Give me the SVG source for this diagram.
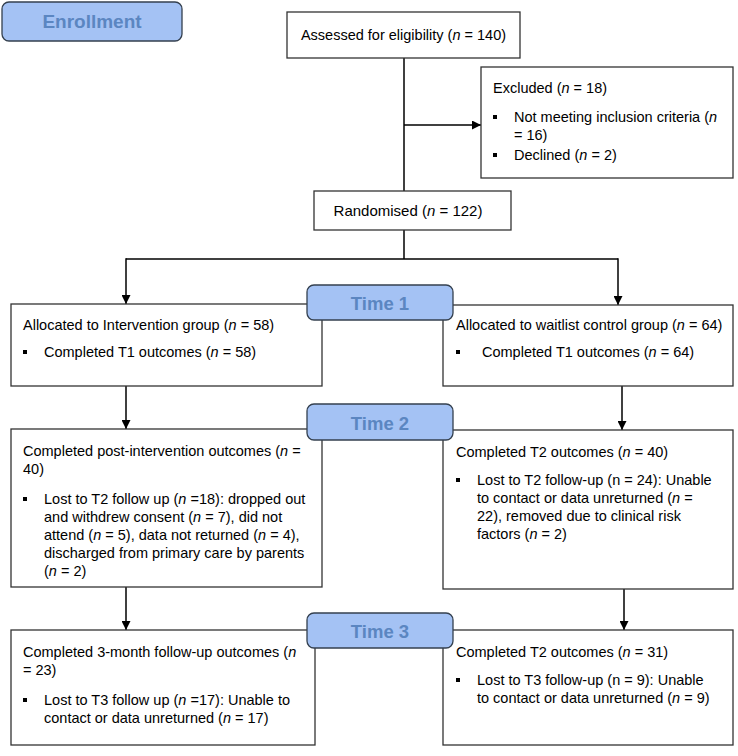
<svg xmlns="http://www.w3.org/2000/svg" width="738" height="756" viewBox="0 0 738 756">
<defs>
<marker id="ah" viewBox="0 0 10 10" refX="10" refY="5" markerUnits="userSpaceOnUse" markerWidth="9" markerHeight="9" orient="auto">
<path d="M0,0 L10,5 L0,10 z" fill="#000"/>
</marker>
<style>
.box{fill:#fff;stroke:#333;stroke-width:1.3}
.lbl{fill:#a4c2f4;stroke:#34404f;stroke-width:1.3}
.lt{font-family:"Liberation Sans",Arial,sans-serif;font-weight:bold;fill:#5b86c1;text-anchor:middle}
.t{font-family:"Liberation Sans",Arial,sans-serif;font-size:14.5px;fill:#000}
.c{text-anchor:middle}
.b{fill:#000}
.conn{stroke:#000;stroke-width:1.5;fill:none}
</style>
</defs>
<g id="connectors">
<line class="conn" x1="404" y1="58" x2="404" y2="191"/>
<line class="conn" x1="404" y1="125" x2="481" y2="125" marker-end="url(#ah)"/>
<polyline class="conn" points="404,230 404,259"/>
<polyline class="conn" points="126,259 618,259"/>
<line class="conn" x1="126" y1="258.25" x2="126" y2="304" marker-end="url(#ah)"/>
<line class="conn" x1="618" y1="258.25" x2="618" y2="305" marker-end="url(#ah)"/>
<line class="conn" x1="126" y1="386" x2="126" y2="429" marker-end="url(#ah)"/>
<line class="conn" x1="622" y1="386" x2="622" y2="430" marker-end="url(#ah)"/>
<line class="conn" x1="126" y1="587" x2="126" y2="630" marker-end="url(#ah)"/>
<line class="conn" x1="624" y1="589" x2="624" y2="630" marker-end="url(#ah)"/>
</g>
<g id="assessed">
<rect class="box" x="287" y="12" width="233" height="46"/>
<text class="t c" x="403.5" y="40">Assessed for eligibility (<tspan font-style="italic">n</tspan> = 140)</text>
</g>
<g id="excluded">
<rect class="box" x="481" y="67" width="252" height="111"/>
<text class="t" x="493" y="93">Excluded (<tspan font-style="italic">n</tspan> = 18)</text>
<rect class="b" x="493" y="115" width="4" height="4"/>
<text class="t" x="514" y="122">Not meeting inclusion criteria (<tspan font-style="italic">n</tspan></text>
<text class="t" x="514" y="140">= 16)</text>
<rect class="b" x="493" y="153" width="4" height="4"/>
<text class="t" x="514" y="160">Declined (<tspan font-style="italic">n</tspan> = 2)</text>
</g>
<g id="randomised">
<rect class="box" x="314" y="191" width="197" height="39"/>
<text class="t c" x="408" y="216" style="font-size:15px">Randomised (<tspan font-style="italic">n</tspan> = 122)</text>
</g>
<g id="int-t1">
<rect class="box" x="11" y="304" width="311" height="82"/>
<text class="t" x="23" y="330">Allocated to Intervention group (<tspan font-style="italic">n</tspan> = 58)</text>
<rect class="b" x="23" y="350" width="4" height="4"/>
<text class="t" x="44" y="357">Completed T1 outcomes (<tspan font-style="italic">n</tspan> = 58)</text>
</g>
<g id="wl-t1">
<rect class="box" x="443" y="305" width="290" height="81"/>
<text class="t" x="456" y="330">Allocated to waitlist control group (<tspan font-style="italic">n</tspan> = 64)</text>
<rect class="b" x="456" y="350" width="4" height="4"/>
<text class="t" x="482" y="357">Completed T1 outcomes (<tspan font-style="italic">n</tspan> = 64)</text>
</g>
<g id="int-t2">
<rect class="box" x="11" y="429" width="311" height="158"/>
<text class="t" x="23" y="456">Completed post-intervention outcomes (<tspan font-style="italic">n</tspan> =</text>
<text class="t" x="23" y="474">40)</text>
<rect class="b" x="23" y="497" width="4" height="4"/>
<text class="t" x="44" y="504">Lost to T2 follow up (<tspan font-style="italic">n</tspan> =18): dropped out</text>
<text class="t" x="44" y="522">and withdrew consent (<tspan font-style="italic">n</tspan> = 7), did not</text>
<text class="t" x="44" y="540">attend (<tspan font-style="italic">n</tspan> = 5), data not returned (<tspan font-style="italic">n</tspan> = 4),</text>
<text class="t" x="44" y="558">discharged from primary care by parents</text>
<text class="t" x="44" y="576">(<tspan font-style="italic">n</tspan> = 2)</text>
</g>
<g id="wl-t2">
<rect class="box" x="443" y="430" width="290" height="159"/>
<text class="t" x="456" y="457">Completed T2 outcomes (<tspan font-style="italic">n</tspan> = 40)</text>
<rect class="b" x="456" y="478" width="4" height="4"/>
<text class="t" x="477" y="485">Lost to T2 follow-up (n = 24): Unable</text>
<text class="t" x="477" y="503">to contact or data unreturned (<tspan font-style="italic">n</tspan> =</text>
<text class="t" x="477" y="521">22), removed due to clinical risk</text>
<text class="t" x="477" y="539">factors (<tspan font-style="italic">n</tspan> = 2)</text>
</g>
<g id="int-t3">
<rect class="box" x="11" y="630" width="304" height="115"/>
<text class="t" x="23" y="657">Completed 3-month follow-up outcomes (<tspan font-style="italic">n</tspan></text>
<text class="t" x="23" y="675">= 23)</text>
<rect class="b" x="23" y="698" width="4" height="4"/>
<text class="t" x="44" y="705">Lost to T3 follow up (<tspan font-style="italic">n</tspan> =17): Unable to</text>
<text class="t" x="44" y="723">contact or data unreturned (<tspan font-style="italic">n</tspan> = 17)</text>
</g>
<g id="wl-t3">
<rect class="box" x="443" y="630" width="290" height="115"/>
<text class="t" x="456" y="657">Completed T2 outcomes (<tspan font-style="italic">n</tspan> = 31)</text>
<rect class="b" x="456" y="678" width="4" height="4"/>
<text class="t" x="477" y="685">Lost to T3 follow-up (n = 9): Unable</text>
<text class="t" x="477" y="703">to contact or data unreturned (<tspan font-style="italic">n</tspan> = 9)</text>
</g>
<g id="enrollment">
<rect class="lbl" x="2" y="2" width="180" height="39" rx="7"/>
<text class="lt" x="92" y="28" font-size="19">Enrollment</text>
</g>
<g id="time1">
<rect class="lbl" x="307" y="285" width="146" height="35" rx="7"/>
<text class="lt" x="380" y="310" font-size="18.5">Time 1</text>
</g>
<g id="time2">
<rect class="lbl" x="307" y="404" width="146" height="36" rx="7"/>
<text class="lt" x="380" y="429.5" font-size="18.5">Time 2</text>
</g>
<g id="time3">
<rect class="lbl" x="307" y="613" width="146" height="35" rx="7"/>
<text class="lt" x="380" y="638" font-size="18.5">Time 3</text>
</g>
</svg>
